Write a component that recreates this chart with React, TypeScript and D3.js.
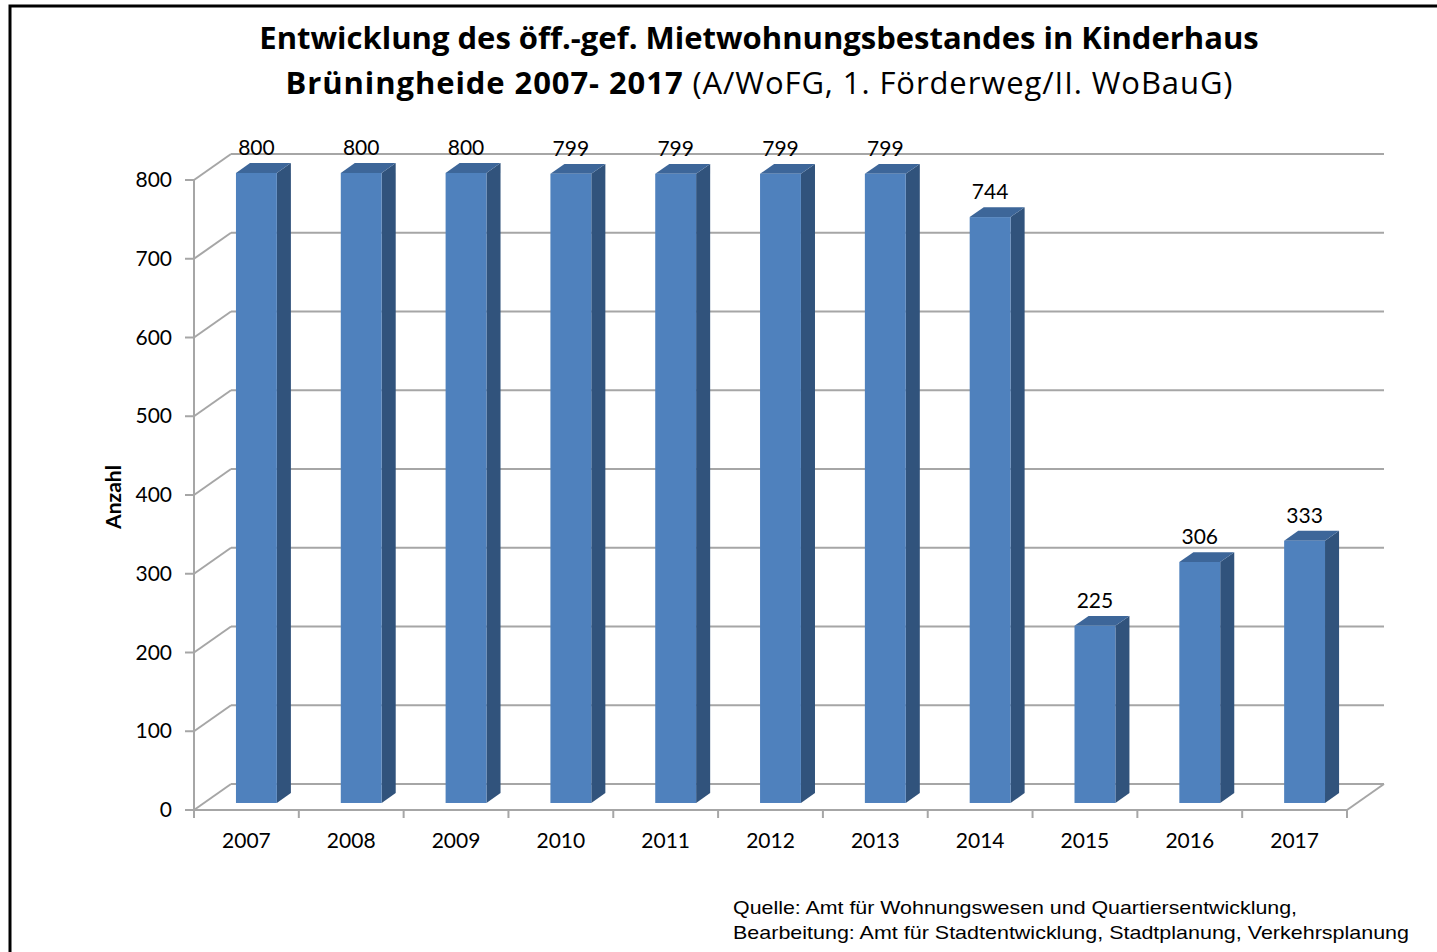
import React from 'react';
import * as d3 from 'd3';

const years = ['2007', '2008', '2009', '2010', '2011', '2012', '2013', '2014', '2015', '2016', '2017'];
const values = [800, 800, 800, 799, 799, 799, 799, 744, 225, 306, 333];
const yTicks = [0, 100, 200, 300, 400, 500, 600, 700, 800];

const W = 1437;
const H = 952;
const FONT = 'Lato, "Open Sans", sans-serif';
const TITLE_FONT = '"Open Sans", Lato, sans-serif';
const SRC_FONT = '"Liberation Sans", Arial, sans-serif';

// floor / front plane
const x0 = 194;
const x1 = 1347;
const yBottom = 810;
const yTop = 180;
// depth of the 3d box
const DX = 37;
const DY = -26;
const barFront = 0.27;
const barDepth = 0.38;
const barWidthRatio = 0.39;

const App = () => {
  const x = d3.scaleBand<string>().domain(years).range([x0, x1]).padding(0);
  const y = d3.scaleLinear().domain([0, 800]).range([yBottom, yTop]);

  const bw = x.bandwidth() * barWidthRatio;
  const fdx = DX * barFront;
  const fdy = DY * barFront;
  const sdx = DX * barDepth;
  const sdy = DY * barDepth;

  const boundaries = years.map(d => x(d) as number).concat([x1]);

  return (
    <div style={{ position: 'absolute', left: 0, top: 0 }}>
      <svg width={W} height={H} style={{ display: 'block', background: '#fff' }}>
        <rect x={10} y={6} width={W + 20} height={H + 20} fill="none" stroke="#000" strokeWidth={3} />

        <text x={759} y={49} textAnchor="middle" fontFamily={TITLE_FONT} fontWeight="bold" fontSize={31} fill="#000">
          Entwicklung des öff.-gef. Mietwohnungsbestandes in Kinderhaus
        </text>
        <text x={759} y={94} textAnchor="middle" fontFamily={TITLE_FONT} fontSize={31} textLength={947} lengthAdjust="spacing" fill="#000">
          <tspan fontWeight="bold">Brüningheide 2007- 2017</tspan>
          <tspan> (A/WoFG, 1. Förderweg/II. WoBauG)</tspan>
        </text>

        {/* back wall gridlines and left wall diagonals */}
        {yTicks.map(t => (
          <g key={t} stroke="#a6a6a6" strokeWidth={2} fill="none">
            <line x1={x0 + DX} x2={x1 + DX} y1={y(t) + DY} y2={y(t) + DY} />
            <line x1={x0} x2={x0 + DX} y1={y(t)} y2={y(t) + DY} />
            <line x1={x0 - 9} x2={x0} y1={y(t)} y2={y(t)} />
          </g>
        ))}
        <line x1={x1} x2={x1 + DX} y1={yBottom} y2={yBottom + DY} stroke="#a6a6a6" strokeWidth={2} />
        <line x1={x0} x2={x0} y1={yTop} y2={yBottom} stroke="#a6a6a6" strokeWidth={2} />
        <line x1={x0} x2={x1} y1={yBottom} y2={yBottom} stroke="#a6a6a6" strokeWidth={2} />
        {boundaries.map((b, i) => (
          <line key={i} x1={b} x2={b} y1={yBottom} y2={yBottom + 8} stroke="#a6a6a6" strokeWidth={2} />
        ))}

        {yTicks.map(t => (
          <text key={t} x={172} y={y(t) + 7} textAnchor="end" fontFamily={FONT} fontSize={21} fill="#000">{t}</text>
        ))}

        <text transform={`translate(121,${497}) rotate(-90)`} textAnchor="middle" fontFamily={FONT} fontWeight="bold" fontSize={21} fill="#000">Anzahl</text>

        {years.map((yr, i) => {
          const cx = (x(yr) as number) + x.bandwidth() / 2 + fdx;
          const left = cx - bw / 2;
          const right = cx + bw / 2;
          const top = y(values[i]) + fdy;
          const bottom = y(0) + fdy;
          return (
            <g key={yr}>
              <path
                d={`M${right},${bottom}L${right + sdx},${bottom + sdy}L${right + sdx},${top + sdy}L${right},${top}Z`}
                fill="#31537c"
              />
              <path
                d={`M${left},${top}L${left + sdx},${top + sdy}L${right + sdx},${top + sdy}L${right},${top}Z`}
                fill="#3d6699"
              />
              <rect x={left} y={top} width={bw} height={bottom - top} fill="#4f81bd" />
              <text x={cx} y={top - 18} textAnchor="middle" fontFamily={FONT} fontSize={21} fill="#000">{values[i]}</text>
            </g>
          );
        })}

        {years.map(yr => (
          <text key={yr} x={(x(yr) as number) + x.bandwidth() / 2} y={848} textAnchor="middle" fontFamily={FONT} fontSize={21} fill="#000">{yr}</text>
        ))}

        <text x={733} y={914} fontFamily={SRC_FONT} fontSize={18.5} textLength={564} lengthAdjust="spacingAndGlyphs" fill="#000">
          Quelle: Amt für Wohnungswesen und Quartiersentwicklung,
        </text>
        <text x={733} y={939} fontFamily={SRC_FONT} fontSize={18.5} textLength={676} lengthAdjust="spacingAndGlyphs" fill="#000">
          Bearbeitung: Amt für Stadtentwicklung, Stadtplanung, Verkehrsplanung
        </text>
      </svg>
    </div>
  );
};

export default App;
